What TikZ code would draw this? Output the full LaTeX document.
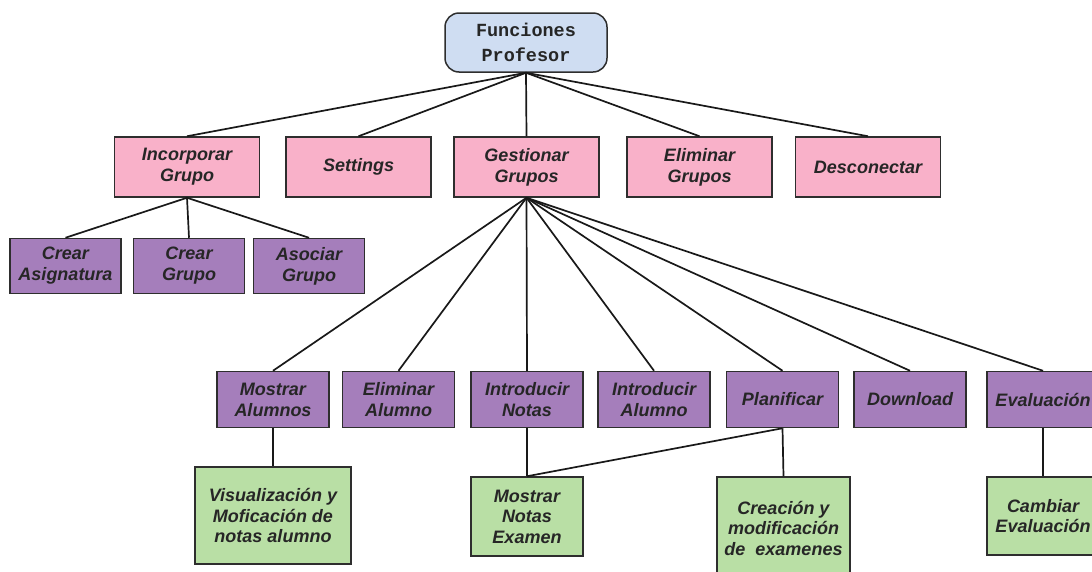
\documentclass[tikz,border=0pt]{standalone}
\usepackage{fontspec}
\setmainfont{Liberation Sans}
\setmonofont{Liberation Mono}
\definecolor{rootfill}{HTML}{CFDDF2}
\definecolor{pinkfill}{HTML}{F9B1C9}
\definecolor{purplefill}{HTML}{A57EBB}
\definecolor{greenfill}{HTML}{B9DFA5}
\definecolor{edge}{HTML}{2E2E2E}
\begin{document}
\begin{tikzpicture}[x=1pt,y=-1pt,
  box/.style={draw=edge,line width=1.5pt,align=center,inner sep=0pt,
    font=\bfseries\itshape\fontsize{18}{21}\selectfont,text=black!85},
  root/.style={box,rounded corners=14pt,fill=rootfill,minimum width=162pt,
    minimum height=59pt,font=\ttfamily\bfseries\fontsize{18.5}{25}\selectfont},
  menu/.style={box,fill=pinkfill,minimum width=145pt,minimum height=60pt},
  task/.style={box,fill=purplefill,minimum width=112pt,minimum height=56pt},
  subtask/.style={task,minimum width=111pt,minimum height=55pt},
  detail/.style={box,fill=greenfill,font=\bfseries\itshape\fontsize{18}{20.5}\selectfont},
  link/.style={draw=black!90,line width=1.7pt}]
\clip (0,0) rectangle (1092,571);
\fill[white] (0,0) rectangle (1092,571);

% root
\node[root] (root) at (526,42.5) {Funciones\\Profesor};

% main menu
\node[menu] (inc) at (187,167) {Incorporar\\Grupo};
\node[menu] (set) at (358.5,167) {Settings};
\node[menu] (ges) at (526.5,167) {Gestionar\\Grupos};
\node[menu] (eli) at (699.5,167) {Eliminar\\Grupos};
\node[menu] (des) at (868,167) {Desconectar};

% group creation
\node[subtask] (casig) at (65.5,266) {Crear\\Asignatura};
\node[subtask] (cgrup) at (189,266) {Crear\\Grupo};
\node[subtask] (agrup) at (309,266) {Asociar\\Grupo};

% group management
\node[task] (malu) at (273,399.5) {Mostrar\\Alumnos};
\node[task] (ealu) at (398.5,399.5) {Eliminar\\Alumno};
\node[task] (inot) at (527,399.5) {Introducir\\Notas};
\node[task] (ialu) at (654,399.5) {Introducir\\Alumno};
\node[task] (plan) at (782.5,399.5) {Planificar};
\node[task] (down) at (910,399.5) {Download};
\node[task] (eval) at (1043,399.5) {Evaluación};

% details
\node[detail,minimum width=156pt,minimum height=97pt] (vis) at (273,515.5)
  {Visualización y\\Moficación de\\notas alumno};
\node[detail,minimum width=112pt,minimum height=79pt] (mne) at (527,516.5)
  {Mostrar\\Notas\\Examen};
\node[detail,minimum width=133pt,minimum height=102pt] (cre) at (783.5,528)
  {Creación y\\modificación\\de\ \ examenes};
\node[detail,minimum width=112pt,minimum height=78pt] (cam) at (1043,516)
  {Cambiar\\Evaluación};

% connectors
\foreach \n in {inc,set,ges,eli,des} \draw[link] (root.south) -- (\n.north);
\foreach \n in {casig,cgrup,agrup} \draw[link] (inc.south) -- (\n.north);
\foreach \n in {malu,ealu,inot,ialu,plan,down,eval} \draw[link] (ges.south) -- (\n.north);
\draw[link] (malu.south) -- (vis.north);
\draw[link] (inot.south) -- (mne.north);
\draw[link] (plan.south) -- (mne.north);
\draw[link] (plan.south) -- (cre.north);
\draw[link] (eval.south) -- (cam.north);
\end{tikzpicture}
\end{document}
